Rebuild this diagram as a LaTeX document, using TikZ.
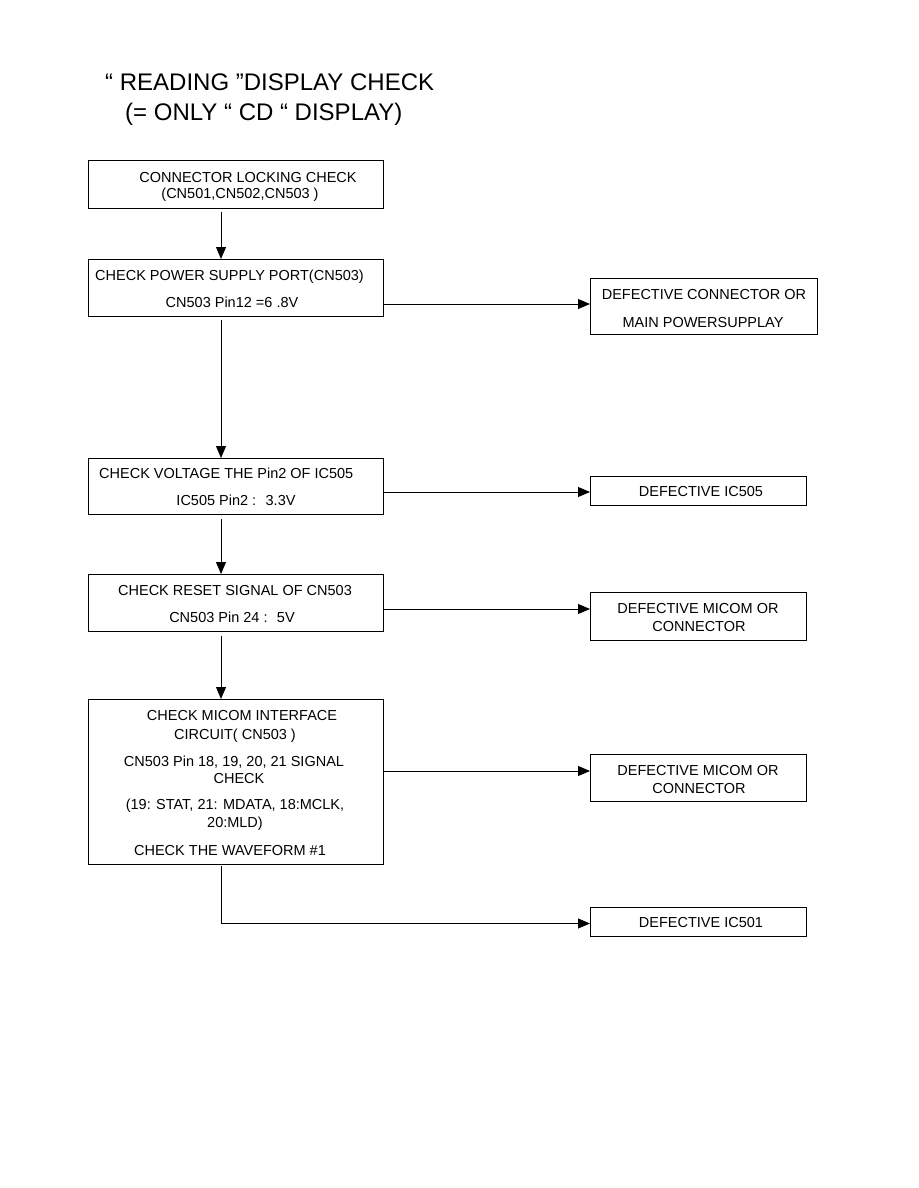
\documentclass[tikz,border=0pt]{standalone}
\usepackage{fontspec}
\setmainfont{Liberation Sans}
\usetikzlibrary{arrows.meta,calc}
\begin{document}
\begin{tikzpicture}[x=1pt,y=-1pt,
  box/.style={draw, line width=0.9pt, inner sep=0pt, outer sep=0pt, anchor=north west},
  txt/.style={font=\fontsize{14.5}{17}\selectfont, inner sep=0pt, anchor=base},
  txtl/.style={txt, anchor=base west},
  ttl/.style={font=\fontsize{24}{28}\selectfont, inner sep=0pt, anchor=base west},
  arr/.style={-{Triangle[length=12pt,width=10pt]}, line width=0.9pt}]
\useasboundingbox (0,0) rectangle (918,1188);

% title
\node[ttl] (t1) at (105,91) {“ READING ”DISPLAY CHECK};
\node[ttl] (t2) at (125,121) {(= ONLY “ CD “ DISPLAY)};

% left boxes
\node[box, minimum width=295pt, minimum height=48pt] (b1) at (88,160) {};
\node[txt] (b1a) at (248,182) {CONNECTOR LOCKING CHECK};
\node[txt] (b1b) at (240,198) {(CN501,CN502,CN503 )};

\node[box, minimum width=295pt, minimum height=57pt] (b2) at (88,259) {};
\node[txtl] (b2a) at (95,280) {CHECK POWER SUPPLY PORT(CN503)};
\node[txt] (b2b) at (232,307) {CN503 Pin12 =6 .8V};

\node[box, minimum width=295pt, minimum height=56pt] (b3) at (88,458) {};
\node[txtl] (b3a) at (99,478) {CHECK VOLTAGE THE Pin2 OF IC505};
\node[txt] (b3b) at (236,505) {IC505 Pin2 : \ 3.3V};

\node[box, minimum width=295pt, minimum height=57pt] (b4) at (88,574) {};
\node[txt] (b4a) at (235,595) {CHECK RESET SIGNAL OF CN503};
\node[txt] (b4b) at (232,622) {CN503 Pin 24 : \ 5V};

\node[box, minimum width=295pt, minimum height=165pt] (b5) at (88,699) {};
\node[txt] (b5a) at (242,720) {CHECK MICOM INTERFACE};
\node[txt] (b5b) at (235,739) {CIRCUIT( CN503 )};
\node[txt] (b5c) at (234,766) {CN503 Pin 18, 19, 20, 21 SIGNAL};
\node[txt] (b5d) at (239,783) {CHECK};
\node[txt] (b5e) at (235,809) {(19: STAT, 21: MDATA, 18:MCLK,};
\node[txt] (b5f) at (235,827) {20:MLD)};
\node[txt] (b5g) at (230,855) {CHECK THE WAVEFORM \#1};

% right boxes
\node[box, minimum width=227pt, minimum height=56pt] (r1) at (590,278) {};
\node[txt] (r1a) at (704,299) {DEFECTIVE CONNECTOR OR};
\node[txt] (r1b) at (703,327) {MAIN POWERSUPPLAY};

\node[box, minimum width=216pt, minimum height=29pt] (r2) at (590,476) {};
\node[txt] (r2a) at (701,496) {DEFECTIVE IC505};

\node[box, minimum width=216pt, minimum height=48pt] (r3) at (590,592) {};
\node[txt] (r3a) at (698,613) {DEFECTIVE MICOM OR};
\node[txt] (r3b) at (699,631) {CONNECTOR};

\node[box, minimum width=216pt, minimum height=47pt] (r4) at (590,754) {};
\node[txt] (r4a) at (698,775) {DEFECTIVE MICOM OR};
\node[txt] (r4b) at (699,793) {CONNECTOR};

\node[box, minimum width=216pt, minimum height=29pt] (r5) at (590,907) {};
\node[txt] (r5a) at (701,927) {DEFECTIVE IC501};

% vertical connectors
\draw[arr] ($(b1.south west)+(133,4)$) -- ($(b2.north west)+(133,0)$);
\draw[arr] ($(b2.south west)+(133,4)$) -- ($(b3.north west)+(133,0)$);
\draw[arr] ($(b3.south west)+(133,5)$) -- ($(b4.north west)+(133,0)$);
\draw[arr] ($(b4.south west)+(133,5)$) -- ($(b5.north west)+(133,0)$);

% horizontal connectors
\draw[arr] ($(b2.south east)+(0,-12)$) coordinate (c2) -- (c2 -| r1.west);
\draw[arr] ($(b3.south east)+(0,-22)$) coordinate (c3) -- (c3 -| r2.west);
\draw[arr] ($(b4.south east)+(0,-22)$) coordinate (c4) -- (c4 -| r3.west);
\draw[arr] ($(b5.north east)+(0,72)$) coordinate (c5) -- (c5 -| r4.west);
\draw[arr] ($(b5.south west)+(133,2)$) coordinate (c6) |- ($(r5.west)+(0,2)$);
\end{tikzpicture}
\end{document}
